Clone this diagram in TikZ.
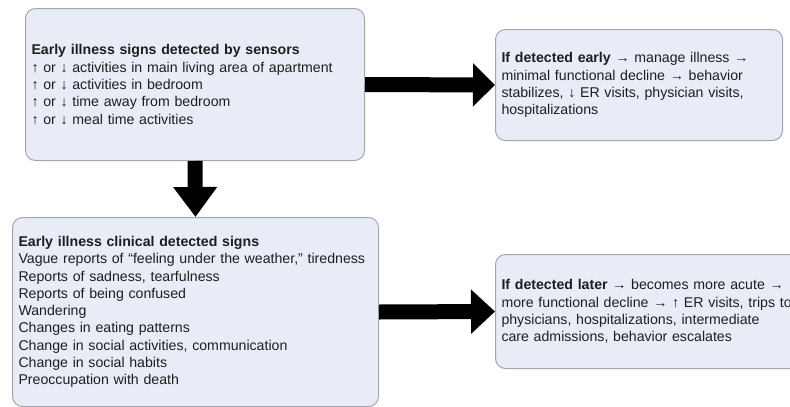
\documentclass[tikz,border=0pt]{standalone}
\usepackage{fontspec}
\setmainfont{Liberation Sans}
\usetikzlibrary{arrows.meta}
\definecolor{boxfill}{HTML}{E8ECF7}
\definecolor{boxline}{HTML}{A3A6AE}
\definecolor{txtcol}{HTML}{1E1E1E}
\begin{document}
\begin{tikzpicture}[x=1pt,y=1pt,
  box/.style={draw=boxline, line width=1pt, fill=boxfill, rounded corners=10pt,
    anchor=north west, inner xsep=6pt, inner ysep=0pt, align=left,
    font=\fontsize{14.15}{17.3}\selectfont, text=txtcol},
  blockarrow/.style={line width=15pt, draw=black, fill=black}]
\useasboundingbox (0,0) rectangle (790,-407);
\clip (0,0) rectangle (790,-407);
\node[box, minimum width=339pt, minimum height=152pt, text width=327pt] (s1) at (25,-8)
  {\textbf{Early illness signs detected by sensors}\\
   ↑ or ↓ activities in main living area of apartment\\
   ↑ or ↓ activities in bedroom\\
   ↑ or ↓ time away from bedroom\\
   ↑ or ↓ meal time activities};
\node[box, minimum width=287pt, minimum height=111pt, text width=275pt] (s2) at (495,-29)
  {\textbf{If detected early} → manage illness →\\
   minimal functional decline → behavior\\
   stabilizes, ↓ ER visits, physician visits,\\
   hospitalizations};
\node[box, minimum width=366pt, minimum height=189pt, text width=354pt] (s3) at (12,-217)
  {\textbf{Early illness clinical detected signs}\\
   \mbox{Vague reports of “feeling under the weather,” tiredness}\\
   Reports of sadness, tearfulness\\
   Reports of being confused\\
   Wandering\\
   Changes in eating patterns\\
   Change in social activities, communication\\
   Change in social habits\\
   Preoccupation with death};
\node[box, minimum width=305pt, minimum height=114pt, text width=293pt] (s4) at (495,-254)
  {\mbox{\textbf{If detected later} → becomes more acute →}\\
   \mbox{more functional decline → ↑ ER visits, trips to}\\
   physicians, hospitalizations, intermediate\\
   care admissions, behavior escalates};
\draw[blockarrow, -{Triangle[width=42pt,length=22pt]}] (s1.east) -- (s2.west);
\draw[blockarrow, -{Triangle[width=42pt,length=30pt]}] (s1.south) -- (s3.north);
\draw[blockarrow, -{Triangle[width=43pt,length=24pt]}] (s3.east) -- (s4.west);
\end{tikzpicture}
\end{document}
